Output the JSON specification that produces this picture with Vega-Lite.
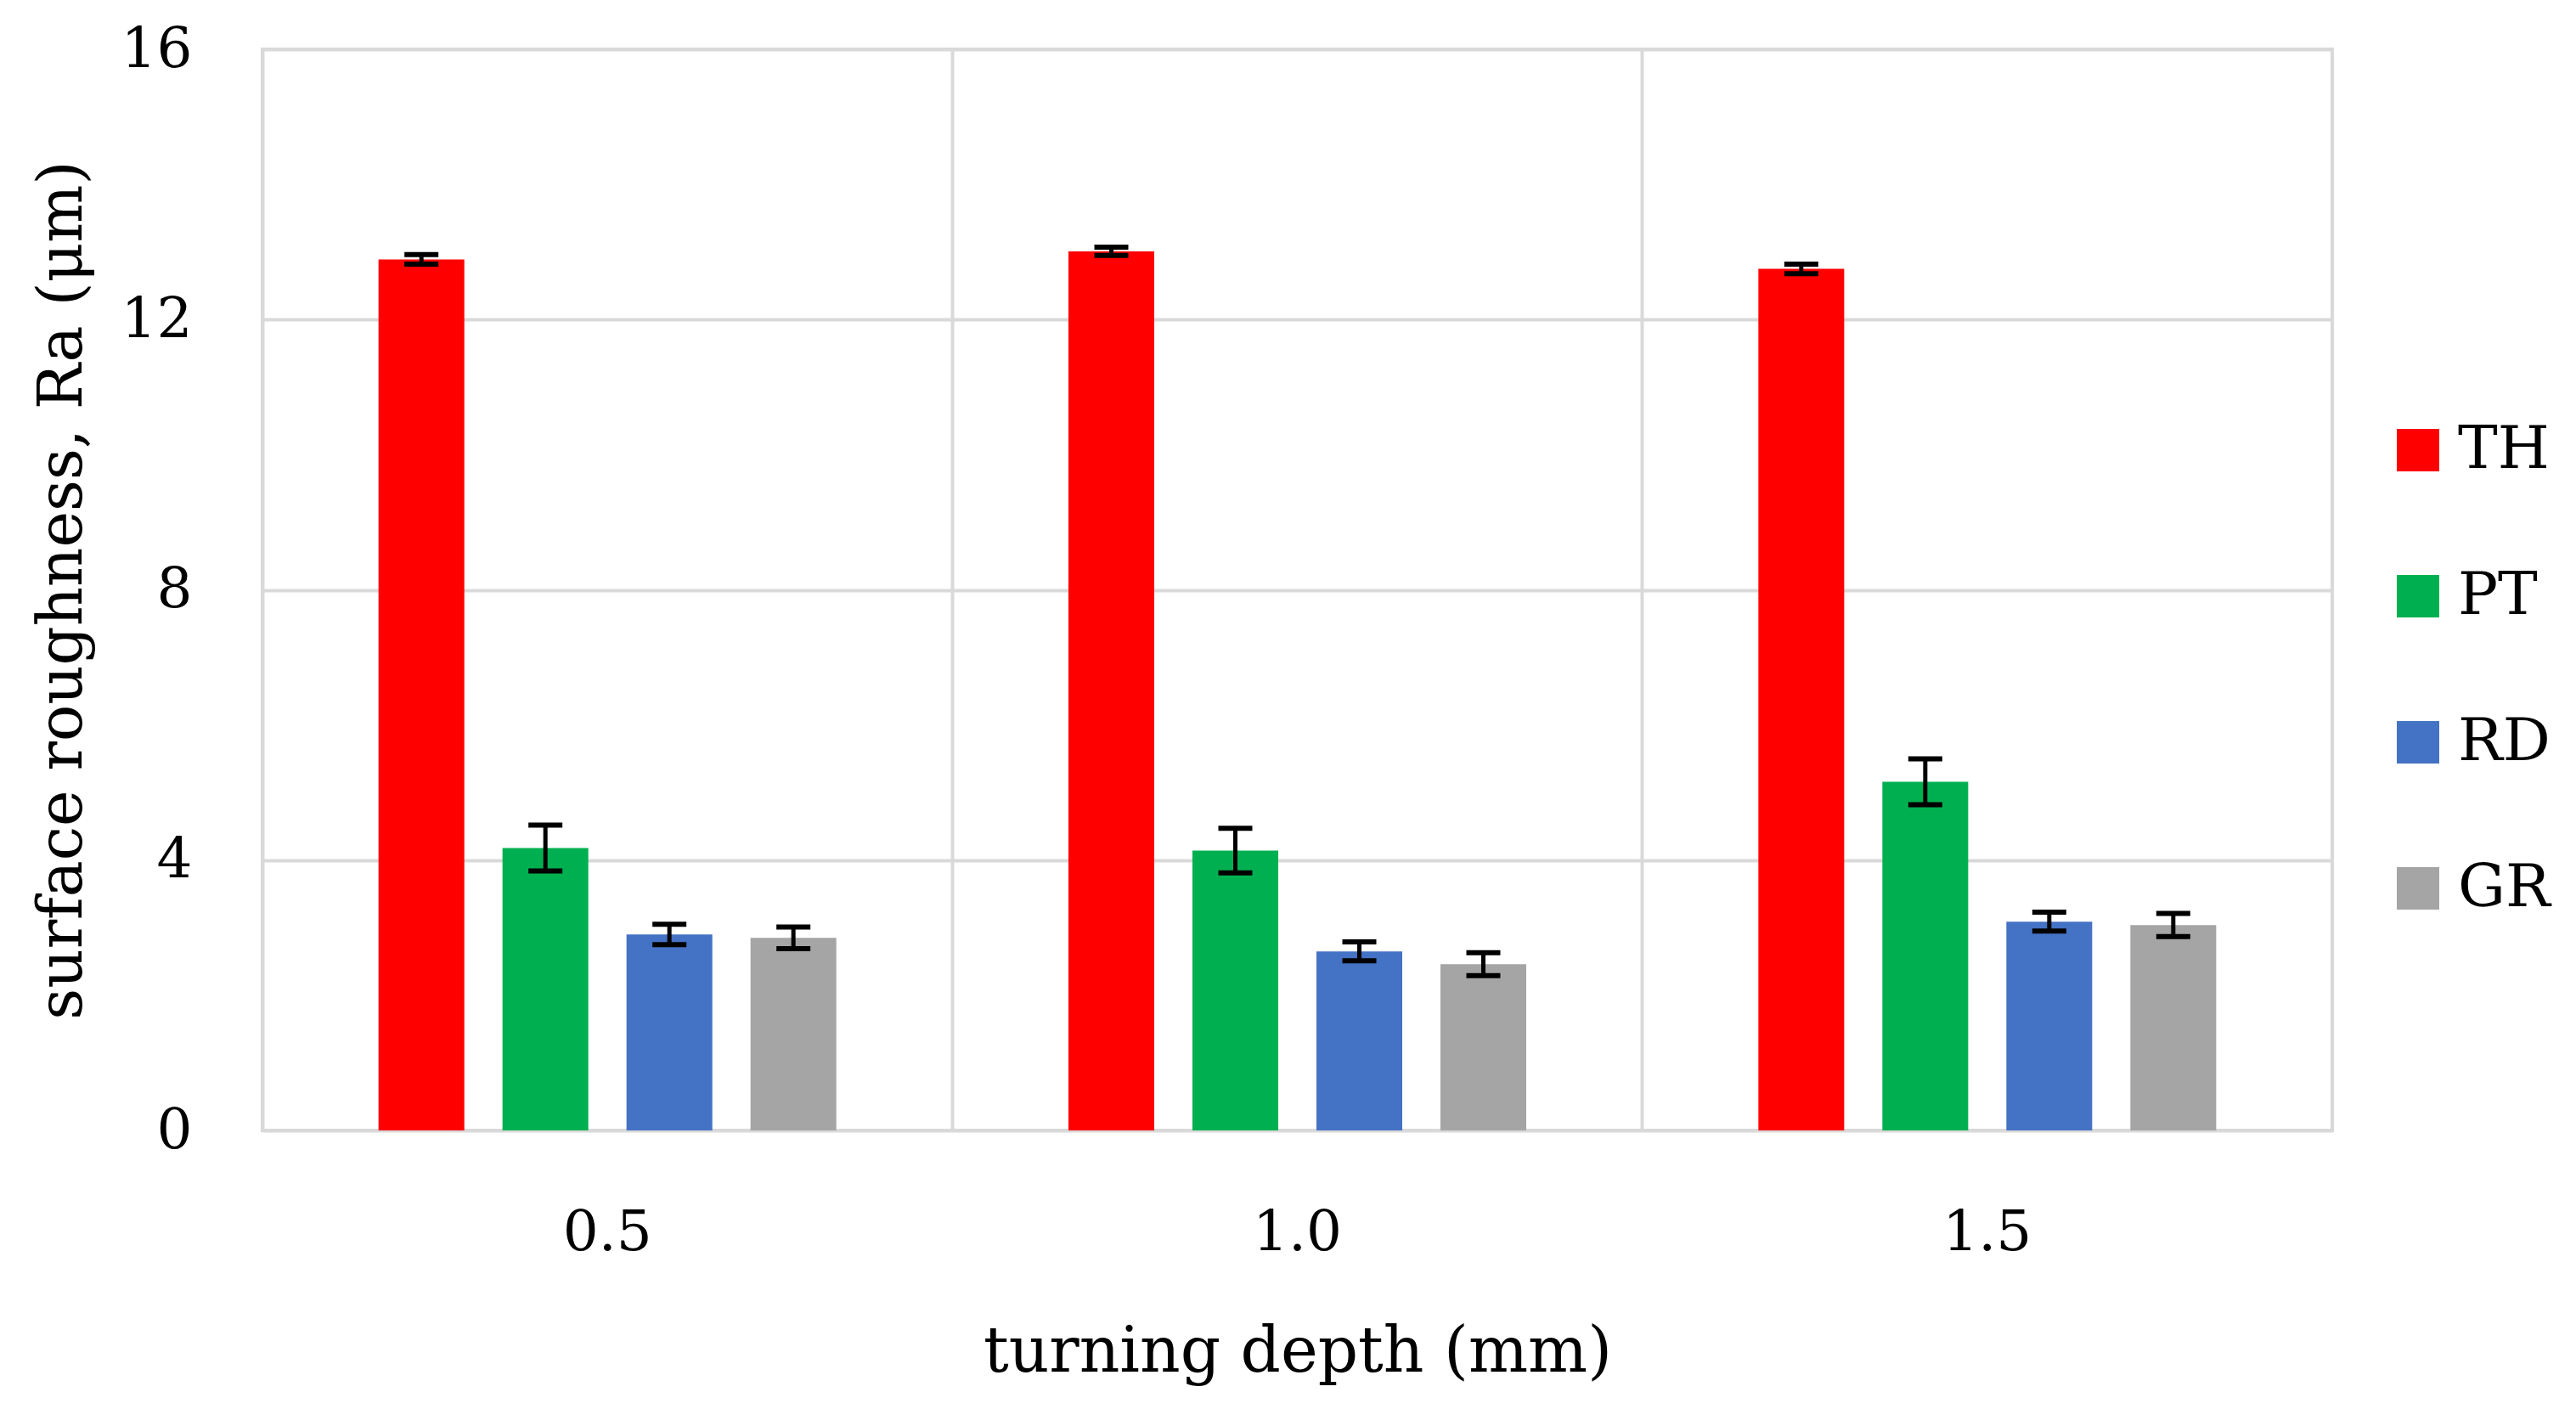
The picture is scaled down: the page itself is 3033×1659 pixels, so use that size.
{
  "$schema": "https://vega.github.io/schema/vega-lite/v6.json",
  "width": 2437,
  "height": 1273,
  "autosize": {"type": "none"},
  "padding": {"left": 309, "top": 58, "right": 287, "bottom": 328},
  "background": "white",
  "data": {
    "values": [
      {"depth": "0.5", "coating": "TH", "Ra": 12.89, "lo": 12.82, "hi": 12.96},
      {"depth": "0.5", "coating": "PT", "Ra": 4.18, "lo": 3.84, "hi": 4.52},
      {"depth": "0.5", "coating": "RD", "Ra": 2.90, "lo": 2.75, "hi": 3.05},
      {"depth": "0.5", "coating": "GR", "Ra": 2.85, "lo": 2.69, "hi": 3.01},
      {"depth": "1.0", "coating": "TH", "Ra": 13.01, "lo": 12.95, "hi": 13.07},
      {"depth": "1.0", "coating": "PT", "Ra": 4.14, "lo": 3.81, "hi": 4.47},
      {"depth": "1.0", "coating": "RD", "Ra": 2.65, "lo": 2.51, "hi": 2.79},
      {"depth": "1.0", "coating": "GR", "Ra": 2.46, "lo": 2.29, "hi": 2.63},
      {"depth": "1.5", "coating": "TH", "Ra": 12.75, "lo": 12.68, "hi": 12.82},
      {"depth": "1.5", "coating": "PT", "Ra": 5.16, "lo": 4.82, "hi": 5.50},
      {"depth": "1.5", "coating": "RD", "Ra": 3.09, "lo": 2.95, "hi": 3.23},
      {"depth": "1.5", "coating": "GR", "Ra": 3.04, "lo": 2.87, "hi": 3.21}
    ]
  },
  "encoding": {
    "x": {
      "field": "depth",
      "type": "nominal",
      "title": "turning depth (mm)",
      "scale": {"paddingInner": 0, "paddingOuter": 0},
      "axis": {
        "labelAngle": 0,
        "labelPadding": 88,
        "titlePadding": 72,
        "titleFontSize": 74,
        "ticks": false,
        "domain": false,
        "grid": true,
        "bandPosition": 0
      }
    },
    "xOffset": {
      "field": "coating",
      "type": "nominal",
      "sort": ["TH", "PT", "RD", "GR"],
      "scale": {"paddingInner": 0.308, "paddingOuter": 0.936}
    }
  },
  "layer": [
    {
      "mark": {"type": "bar"},
      "encoding": {
        "y": {
          "field": "Ra",
          "type": "quantitative",
          "title": "surface roughness, Ra (μm)",
          "scale": {"domain": [0, 16], "nice": false},
          "axis": {
            "values": [0, 4, 8, 12, 16],
            "format": "d",
            "labelPadding": 83,
            "titlePadding": 32,
            "titleFontSize": 72,
            "ticks": false,
            "domain": false
          }
        },
        "color": {
          "field": "coating",
          "type": "nominal",
          "sort": ["TH", "PT", "RD", "GR"],
          "scale": {
            "domain": ["TH", "PT", "RD", "GR"],
            "range": ["#FF0000", "#00B050", "#4472C4", "#A5A5A5"]
          },
          "legend": {
            "title": null,
            "orient": "none",
            "legendX": 2503,
            "legendY": 437,
            "symbolType": "square",
            "symbolSize": 2500,
            "symbolStrokeWidth": 0,
            "symbolOpacity": 1,
            "labelFontSize": 70,
            "labelOffset": 12,
            "rowPadding": 102
          }
        }
      }
    },
    {
      "mark": {"type": "rule", "color": "black", "strokeWidth": 5},
      "encoding": {
        "y": {"field": "lo", "type": "quantitative"},
        "y2": {"field": "hi"}
      }
    },
    {
      "mark": {"type": "tick", "color": "black", "size": 40, "thickness": 6, "opacity": 1},
      "encoding": {
        "y": {"field": "lo", "type": "quantitative"}
      }
    },
    {
      "mark": {"type": "tick", "color": "black", "size": 40, "thickness": 6, "opacity": 1},
      "encoding": {
        "y": {"field": "hi", "type": "quantitative"}
      }
    }
  ],
  "config": {
    "font": "DejaVu Serif",
    "view": {"stroke": "#d9d9d9", "strokeWidth": 4},
    "axis": {
      "labelFont": "DejaVu Serif",
      "titleFont": "DejaVu Serif",
      "labelFontSize": 66,
      "titleFontWeight": "normal",
      "labelColor": "black",
      "titleColor": "black",
      "gridColor": "#d9d9d9",
      "gridWidth": 4
    },
    "legend": {
      "labelFont": "DejaVu Serif",
      "labelColor": "black"
    }
  }
}
